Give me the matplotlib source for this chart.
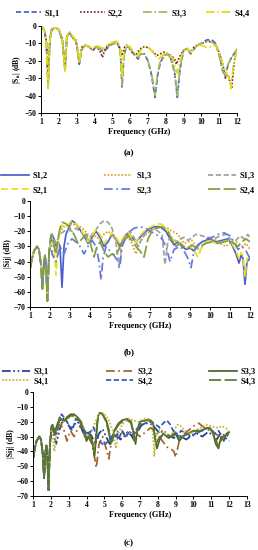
import matplotlib
matplotlib.use("Agg")
import matplotlib.pyplot as plt

plt.rcParams['font.family'] = ['Liberation Serif', 'DejaVu Serif']
plt.rcParams['font.weight'] = 'bold'
plt.rcParams['mathtext.fontset'] = 'stix'

# ---------------- Panel (a) data ----------------
a_f11 = [1.0, 1.1, 1.2, 1.3, 1.4, 1.5, 1.6, 1.8, 2.0, 2.2, 2.35, 2.45, 2.6, 2.8, 2.95, 3.05, 3.15, 3.3, 3.5, 3.7, 3.9, 4.1, 4.3, 4.5, 4.7, 4.9, 5.1, 5.3, 5.45, 5.55, 5.65, 5.8, 6.0, 6.2, 6.45, 6.6, 6.8, 7.0, 7.2, 7.4, 7.55, 7.7, 7.9, 8.1, 8.3, 8.5, 8.65, 8.8, 9.0, 9.2, 9.4, 9.6, 9.8, 10.0, 10.3, 10.6, 10.8, 11.0, 11.2, 11.35, 11.5, 11.7, 11.9, 12.0]
a_s11 = [0, -1, -3, -10, -35, -8, -2, -1, -2, -8, -26, -6, -4, -7, -8, -14, -22, -13, -11, -12, -14, -12, -13, -15, -13, -11, -10, -10, -14, -35, -18, -11, -13, -16, -19, -16, -16, -20, -28, -41, -28, -21, -17, -16, -19, -27, -41, -25, -14, -13, -16, -13, -11, -10, -8, -8, -10, -16, -26, -29, -22, -18, -15, -13]
a_s33 = [0, -1, -3, -11, -34, -8, -2, -1, -2, -9, -25, -6, -4, -7, -9, -14, -21, -13, -11, -12, -14, -12, -13, -14, -12, -11, -10, -10, -14, -34, -17, -11, -13, -16, -18, -16, -16, -20, -27, -40, -27, -20, -17, -16, -19, -26, -40, -24, -14, -13, -15, -13, -11, -10, -9, -9, -11, -17, -26, -28, -22, -18, -15, -13]
a_f22 = [1.0, 1.1, 1.2, 1.3, 1.4, 1.5, 1.6, 1.8, 2.0, 2.2, 2.35, 2.45, 2.6, 2.8, 2.95, 3.05, 3.15, 3.3, 3.5, 3.7, 3.9, 4.1, 4.3, 4.45, 4.6, 4.8, 5.0, 5.2, 5.4, 5.55, 5.7, 5.9, 6.1, 6.3, 6.5, 6.7, 6.9, 7.1, 7.3, 7.5, 7.7, 7.9, 8.1, 8.3, 8.5, 8.6, 8.75, 9.0, 9.2, 9.4, 9.6, 9.8, 10.0, 10.3, 10.6, 10.8, 11.0, 11.2, 11.35, 11.5, 11.6, 11.7, 11.85, 12.0]
a_s22 = [0, -1, -3, -9, -30, -7, -2, -1, -2, -8, -25, -6, -4, -7, -8, -13, -20, -12, -11, -12, -14, -12, -14, -18, -13, -11, -10, -9, -12, -17, -12, -12, -15, -17, -14, -12, -12, -13, -15, -17, -16, -15, -16, -17, -19, -22, -18, -14, -13, -15, -12, -11, -10, -9, -9, -11, -15, -22, -30, -28, -32, -36, -20, -14]
a_f44 = [1.0, 1.1, 1.2, 1.3, 1.4, 1.5, 1.6, 1.8, 2.0, 2.2, 2.35, 2.45, 2.6, 2.8, 2.95, 3.05, 3.15, 3.3, 3.5, 3.7, 3.9, 4.1, 4.3, 4.5, 4.7, 4.9, 5.1, 5.3, 5.45, 5.55, 5.65, 5.8, 6.0, 6.2, 6.4, 6.6, 6.8, 7.0, 7.2, 7.4, 7.6, 7.8, 8.0, 8.2, 8.4, 8.55, 8.65, 8.8, 9.0, 9.2, 9.4, 9.6, 9.8, 10.0, 10.2, 10.5, 10.8, 11.0, 11.2, 11.4, 11.55, 11.65, 11.8, 12.0]
a_s44 = [0, -1, -3, -12, -36, -8, -2, -1, -2, -9, -26, -6, -3, -6, -8, -13, -21, -12, -11, -12, -13, -11, -12, -13, -11, -10, -9, -9, -13, -30, -16, -11, -12, -15, -17, -14, -12, -12, -14, -17, -19, -17, -15, -16, -19, -24, -27, -20, -14, -13, -15, -13, -11, -11, -12, -12, -11, -15, -22, -27, -30, -36, -22, -14]

# ---------------- Panel (b) data ----------------
pre_f = [1.0, 1.1, 1.2, 1.35, 1.45, 1.55, 1.62, 1.7, 1.75, 1.8, 1.87, 1.95, 2.05]
pre_s = [-45, -38, -33, -30, -32, -42, -58, -40, -36, -42, -66, -35, -23]

b_f12 = [2.1, 2.2, 2.3, 2.4, 2.5, 2.6, 2.7, 2.8, 3.0, 3.1, 3.3, 3.5, 3.7, 3.9, 4.1, 4.3, 4.5, 4.7, 4.9, 5.1, 5.3, 5.5, 5.7, 5.9, 6.1, 6.3, 6.5, 6.7, 6.9, 7.2, 7.5, 7.8, 8.0, 8.2, 8.4, 8.6, 8.8, 9.0, 9.2, 9.4, 9.6, 9.8, 10.0, 10.3, 10.6, 10.9, 11.1, 11.3, 11.45, 11.55, 11.65, 11.75, 11.85, 12.0]
b_s12 = [-22, -25, -30, -27, -30, -57, -30, -22, -16, -13, -15, -19, -23, -28, -24, -20, -24, -30, -27, -22, -25, -30, -24, -21, -24, -27, -24, -21, -19, -17, -17, -20, -25, -29, -27, -30, -32, -31, -33, -29, -27, -26, -25, -27, -26, -25, -29, -35, -41, -36, -38, -55, -40, -38]
b_f21 = [2.1, 2.2, 2.3, 2.4, 2.5, 2.6, 2.8, 3.0, 3.1, 3.3, 3.5, 3.7, 3.9, 4.1, 4.3, 4.5, 4.7, 4.9, 5.1, 5.3, 5.5, 5.7, 5.9, 6.1, 6.3, 6.5, 6.7, 6.9, 7.2, 7.5, 7.8, 8.0, 8.2, 8.4, 8.6, 8.8, 9.0, 9.2, 9.4, 9.6, 9.8, 10.0, 10.3, 10.6, 10.9, 11.1, 11.3, 11.45, 11.55, 11.65, 11.75, 11.85, 12.0]
b_s21 = [-22, -30, -49, -30, -20, -16, -18, -14, -13, -15, -18, -22, -27, -23, -19, -22, -28, -25, -21, -24, -28, -23, -21, -24, -27, -23, -20, -18, -16, -15, -17, -22, -27, -26, -29, -31, -30, -33, -37, -30, -27, -26, -28, -27, -26, -28, -33, -38, -34, -36, -50, -38, -37]
b_f13 = [2.1, 2.3, 2.5, 2.7, 2.9, 3.1, 3.3, 3.5, 3.7, 3.9, 4.1, 4.3, 4.5, 4.7, 4.9, 5.1, 5.3, 5.5, 5.7, 5.9, 6.1, 6.3, 6.5, 6.7, 6.9, 7.1, 7.3, 7.6, 7.9, 8.1, 8.3, 8.5, 8.7, 8.9, 9.1, 9.3, 9.5, 9.7, 9.9, 10.2, 10.5, 10.8, 11.0, 11.3, 11.6, 11.8, 12.0]
b_s13 = [-25, -32, -20, -17, -16, -15, -16, -17, -19, -22, -25, -23, -26, -22, -20, -22, -26, -32, -26, -24, -28, -35, -27, -23, -21, -19, -18, -17, -18, -20, -21, -24, -28, -27, -26, -30, -33, -28, -27, -25, -28, -30, -28, -27, -30, -28, -32]
b_f13g = [2.1, 2.3, 2.5, 2.7, 2.9, 3.1, 3.3, 3.5, 3.7, 3.9, 4.1, 4.3, 4.5, 4.7, 4.9, 5.1, 5.3, 5.45, 5.6, 5.8, 6.0, 6.2, 6.4, 6.6, 6.8, 7.0, 7.3, 7.6, 7.75, 7.9, 8.1, 8.3, 8.5, 8.7, 8.9, 9.1, 9.3, 9.6, 9.9, 10.2, 10.5, 10.8, 11.0, 11.3, 11.5, 11.7, 11.9, 12.0]
b_s13g = [-22, -28, -22, -20, -19, -20, -18, -20, -22, -26, -22, -19, -15, -13, -14, -18, -28, -44, -28, -22, -20, -24, -30, -25, -21, -19, -19, -22, -42, -26, -24, -27, -25, -24, -26, -24, -22, -23, -24, -25, -23, -22, -25, -26, -23, -25, -22, -25]
b_f23 = [2.1, 2.3, 2.5, 2.7, 2.9, 3.1, 3.3, 3.5, 3.7, 3.9, 4.1, 4.3, 4.45, 4.55, 4.65, 4.8, 5.0, 5.2, 5.4, 5.5, 5.6, 5.8, 6.0, 6.2, 6.5, 6.8, 7.0, 7.3, 7.6, 7.8, 8.0, 8.2, 8.5, 8.7, 8.9, 9.05, 9.2, 9.5, 9.8, 10.1, 10.4, 10.7, 11.0, 11.2, 11.4, 11.6, 11.8, 12.0]
b_s23 = [-35, -40, -30, -35, -28, -25, -27, -30, -35, -30, -26, -30, -40, -52, -38, -30, -33, -36, -40, -43, -30, -24, -20, -18, -17, -18, -20, -22, -25, -30, -40, -32, -30, -33, -38, -44, -33, -28, -25, -24, -22, -21, -23, -27, -32, -30, -33, -38]
b_f24 = [2.1, 2.2, 2.3, 2.4, 2.5, 2.6, 2.8, 3.0, 3.2, 3.4, 3.6, 3.8, 4.0, 4.2, 4.35, 4.5, 4.7, 4.9, 5.1, 5.3, 5.5, 5.7, 5.9, 6.1, 6.3, 6.5, 6.7, 6.9, 7.1, 7.3, 7.6, 7.9, 8.1, 8.3, 8.5, 8.7, 8.9, 9.1, 9.3, 9.5, 9.8, 10.1, 10.4, 10.7, 11.0, 11.2, 11.4, 11.6, 11.8, 12.0]
b_s24 = [-22, -30, -35, -25, -18, -14, -15, -18, -22, -28, -25, -22, -27, -37, -30, -27, -33, -37, -35, -36, -30, -26, -23, -26, -30, -33, -37, -25, -20, -18, -17, -20, -26, -30, -28, -30, -31, -29, -31, -30, -28, -27, -28, -27, -26, -28, -30, -27, -25, -27]

# ---------------- Panel (c) data ----------------
c_f31 = [2.1, 2.3, 2.5, 2.7, 2.9, 3.1, 3.3, 3.5, 3.7, 3.9, 4.1, 4.3, 4.5, 4.7, 4.9, 5.1, 5.3, 5.5, 5.7, 5.9, 6.1, 6.3, 6.5, 6.7, 6.9, 7.1, 7.4, 7.7, 7.9, 8.1, 8.3, 8.6, 8.9, 9.1, 9.3, 9.6, 9.9, 10.2, 10.5, 10.8, 11.1, 11.3, 11.5, 11.7, 12.0]
c_s31 = [-25, -35, -25, -18, -20, -25, -22, -20, -24, -30, -26, -30, -35, -28, -25, -30, -35, -32, -28, -32, -30, -27, -29, -33, -26, -22, -21, -22, -25, -28, -26, -29, -31, -28, -30, -32, -29, -28, -30, -27, -29, -32, -28, -30, -29]
c_f32 = [2.1, 2.3, 2.5, 2.7, 2.9, 3.1, 3.3, 3.5, 3.7, 3.9, 4.1, 4.3, 4.45, 4.55, 4.7, 4.9, 5.1, 5.25, 5.4, 5.6, 5.8, 6.0, 6.2, 6.4, 6.6, 6.8, 7.0, 7.3, 7.6, 7.9, 8.2, 8.5, 8.7, 8.9, 9.0, 9.2, 9.5, 9.8, 10.0, 10.3, 10.6, 10.9, 11.2, 11.5, 11.8, 12.0]
c_s32 = [-25, -30, -22, -24, -33, -26, -30, -25, -22, -26, -30, -35, -44, -51, -35, -30, -38, -45, -33, -28, -26, -27, -30, -28, -26, -28, -30, -27, -24, -27, -32, -37, -38, -40, -44, -33, -28, -25, -23, -21, -24, -26, -28, -30, -28, -27]
c_f33 = [2.1, 2.2, 2.3, 2.5, 2.7, 2.9, 3.1, 3.3, 3.5, 3.7, 3.9, 4.0, 4.2, 4.35, 4.45, 4.55, 4.65, 4.75, 4.9, 5.1, 5.25, 5.35, 5.45, 5.6, 5.8, 6.0, 6.3, 6.5, 6.65, 6.75, 6.85, 7.0, 7.3, 7.6, 7.75, 7.85, 7.95, 8.1, 8.3, 8.6, 8.8, 9.0, 9.2, 9.4, 9.7, 10.0, 10.3, 10.6, 10.9, 11.1, 11.25, 11.4, 11.55, 11.7, 11.85, 12.0]
c_s33 = [-22, -28, -24, -17, -20, -17, -15, -15, -17, -20, -28, -33, -28, -35, -43, -30, -16, -14, -15, -19, -25, -35, -30, -25, -21, -19, -18, -20, -28, -35, -25, -20, -19, -19, -22, -32, -38, -32, -28, -31, -30, -28, -33, -30, -28, -26, -27, -25, -24, -28, -35, -38, -30, -33, -28, -27]
c_f41 = [2.1, 2.2, 2.3, 2.5, 2.7, 2.9, 3.1, 3.3, 3.5, 3.7, 3.9, 4.1, 4.3, 4.5, 4.7, 4.9, 5.1, 5.3, 5.5, 5.65, 5.8, 6.0, 6.2, 6.4, 6.6, 6.9, 7.2, 7.5, 7.7, 7.8, 7.9, 8.1, 8.4, 8.7, 8.9, 9.1, 9.3, 9.5, 9.8, 10.1, 10.4, 10.7, 11.0, 11.3, 11.6, 11.9, 12.0]
c_s41 = [-30, -40, -30, -22, -20, -18, -17, -16, -18, -21, -25, -30, -26, -20, -15, -14, -16, -20, -27, -38, -28, -22, -19, -18, -19, -20, -18, -18, -22, -43, -30, -25, -27, -30, -26, -22, -23, -26, -28, -26, -24, -22, -23, -24, -23, -25, -27]
c_f42 = [2.1, 2.3, 2.5, 2.6, 2.8, 3.0, 3.2, 3.4, 3.6, 3.8, 4.0, 4.2, 4.4, 4.6, 4.8, 5.0, 5.2, 5.4, 5.6, 5.8, 6.0, 6.2, 6.4, 6.6, 6.8, 7.0, 7.3, 7.6, 7.9, 8.1, 8.3, 8.5, 8.7, 8.9, 9.1, 9.3, 9.6, 9.9, 10.2, 10.5, 10.8, 11.0, 11.2, 11.4, 11.6, 11.8, 12.0]
c_s42 = [-24, -28, -19, -15, -18, -22, -26, -18, -20, -24, -29, -27, -24, -30, -34, -36, -33, -30, -28, -32, -26, -30, -27, -29, -25, -23, -21, -20, -22, -24, -21, -19, -22, -27, -30, -26, -28, -30, -27, -26, -24, -25, -28, -26, -30, -31, -33]
c_f43 = [2.1, 2.3, 2.5, 2.7, 2.9, 3.1, 3.3, 3.5, 3.7, 3.9, 4.1, 4.3, 4.45, 4.6, 4.75, 4.9, 5.1, 5.3, 5.4, 5.6, 5.8, 6.0, 6.3, 6.5, 6.7, 6.9, 7.1, 7.4, 7.7, 7.9, 8.1, 8.4, 8.7, 9.0, 9.2, 9.5, 9.8, 10.1, 10.4, 10.7, 11.0, 11.2, 11.4, 11.6, 11.8, 12.0]
c_s43 = [-23, -27, -18, -20, -18, -16, -16, -18, -21, -30, -30, -33, -40, -20, -14, -15, -20, -30, -34, -26, -22, -20, -19, -21, -33, -24, -20, -19, -20, -35, -30, -29, -30, -27, -31, -29, -27, -26, -26, -24, -25, -30, -37, -31, -29, -28]

a_labels = ['S1,1', 'S2,2', 'S3,3', 'S4,4']
b_labels = ['S1,2', 'S1,3', 'S1,3', 'S2,1', 'S2,3', 'S2,4']
c_labels = ['S3,1', 'S3,2', 'S3,3', 'S4,1', 'S4,2', 'S4,3']

W, H = 258, 550
fig = plt.figure(figsize=(W / 100, H / 100), dpi=100)


def ax_at(l, t, r, b):
    return fig.add_axes([l / W, 1 - b / H, (r - l) / W, (b - t) / H])


def style(ax, xmax, ymin, ylabel):
    ax.set_xlim(1, xmax)
    ax.set_ylim(ymin, 0)
    ax.set_xticks(range(1, xmax + 1))
    ax.set_yticks(range(ymin, 1, 10))
    for s in ['top', 'right']:
        ax.spines[s].set_visible(False)
    for s in ['left', 'bottom']:
        ax.spines[s].set_linewidth(0.7)
    ax.tick_params(labelsize=5.5, width=0.7, length=2, pad=1.5)
    for lab in ax.get_xticklabels() + ax.get_yticklabels():
        lab.set_fontweight('bold')
    ax.set_xlabel('Frequency (GHz)', fontsize=6, fontweight='bold', labelpad=1.5)
    ax.set_ylabel(ylabel, fontsize=5.5, fontweight='bold', labelpad=1)


LW = 1.25
# ---- (a)
axa = ax_at(41, 26, 237, 113)
ha = []
ha += axa.plot(a_f11, a_s11, color='#4F5FC0', ls=(0, (3, 1.5)), lw=LW)
ha += axa.plot(a_f22, a_s22, color='#8B2A2A', ls=(0, (1, 1)), lw=LW)
ha += axa.plot(a_f11, a_s33, color='#9BBB59', ls=(0, (5, 1.5, 1, 1.5)), lw=LW)
ha += axa.plot(a_f44, a_s44, color='#E0DC10', ls=(0, (5, 1.5, 1, 1.5)), lw=LW)
style(axa, 12, -50, r'|S$_{\mathbf{ii}}$| (dB)')
fig.legend(ha, a_labels, loc='center', bbox_to_anchor=(133 / W, 1 - 13 / H), ncol=4,
           frameon=False, handlelength=3.0, columnspacing=2.4, handletextpad=0.4,
           borderpad=0, prop={'weight': 'bold', 'size': 6})
fig.text(129 / W, 1 - 153 / H, '(a)', ha='center', va='center', fontsize=6.5)

# ---- (b)
axb = ax_at(30, 201, 250, 307)
bdata = [
    (b_f12, b_s12, '#4A5FCC', '-'),
    (b_f13, b_s13, '#E0A030', (0, (1, 1))),
    (b_f13g, b_s13g, '#A0A0A0', (0, (3, 1.5))),
    (b_f21, b_s21, '#E8E020', (0, (4, 2))),
    (b_f23, b_s23, '#6678E0', (0, (5, 2, 1, 2))),
    (b_f24, b_s24, '#7FA040', (0, (7, 2))),
]
hb = []
for f, s, c, ls in bdata:
    hb += axb.plot(pre_f + f, pre_s + s, color=c, ls=ls, lw=LW)
style(axb, 12, -70, '|Sij| (dB)')
order = [0, 3, 1, 4, 2, 5]
fig.legend([hb[i] for i in order], [b_labels[i] for i in order], loc='center',
           bbox_to_anchor=(128 / W, 1 - 183 / H), ncol=3, frameon=False,
           handlelength=3.3, columnspacing=6.8, handletextpad=0.5, labelspacing=0.8,
           borderpad=0, prop={'weight': 'bold', 'size': 6})
fig.text(129 / W, 1 - 352 / H, '(b)', ha='center', va='center', fontsize=6.5)

# ---- (c)
axc = ax_at(33, 392, 247, 496)
cdata = [
    (c_f31, c_s31, '#203A8C', (0, (5, 1.5, 1, 1.5, 1, 1.5))),
    (c_f32, c_s32, '#A0622D', (0, (5, 2, 1, 2))),
    (c_f33, c_s33, '#4F6228', '-'),
    (c_f41, c_s41, '#C8B432', (0, (1, 1))),
    (c_f42, c_s42, '#3355BB', (0, (3, 1.5))),
    (c_f43, c_s43, '#5A7A30', (0, (7, 2))),
]
hc = []
for f, s, c, ls in cdata:
    hc += axc.plot(pre_f + f, pre_s + s, color=c, ls=ls, lw=LW)
style(axc, 13, -70, '|Sij| (dB)')
fig.legend([hc[i] for i in order], [c_labels[i] for i in order], loc='center',
           bbox_to_anchor=(129 / W, 1 - 376.5 / H), ncol=3, frameon=False,
           handlelength=3.3, columnspacing=6.8, handletextpad=0.5, labelspacing=0.15,
           borderpad=0, prop={'weight': 'bold', 'size': 6})
fig.text(129 / W, 1 - 543 / H, '(c)', ha='center', va='center', fontsize=6.5)

fig.savefig('out.png', dpi=100)
